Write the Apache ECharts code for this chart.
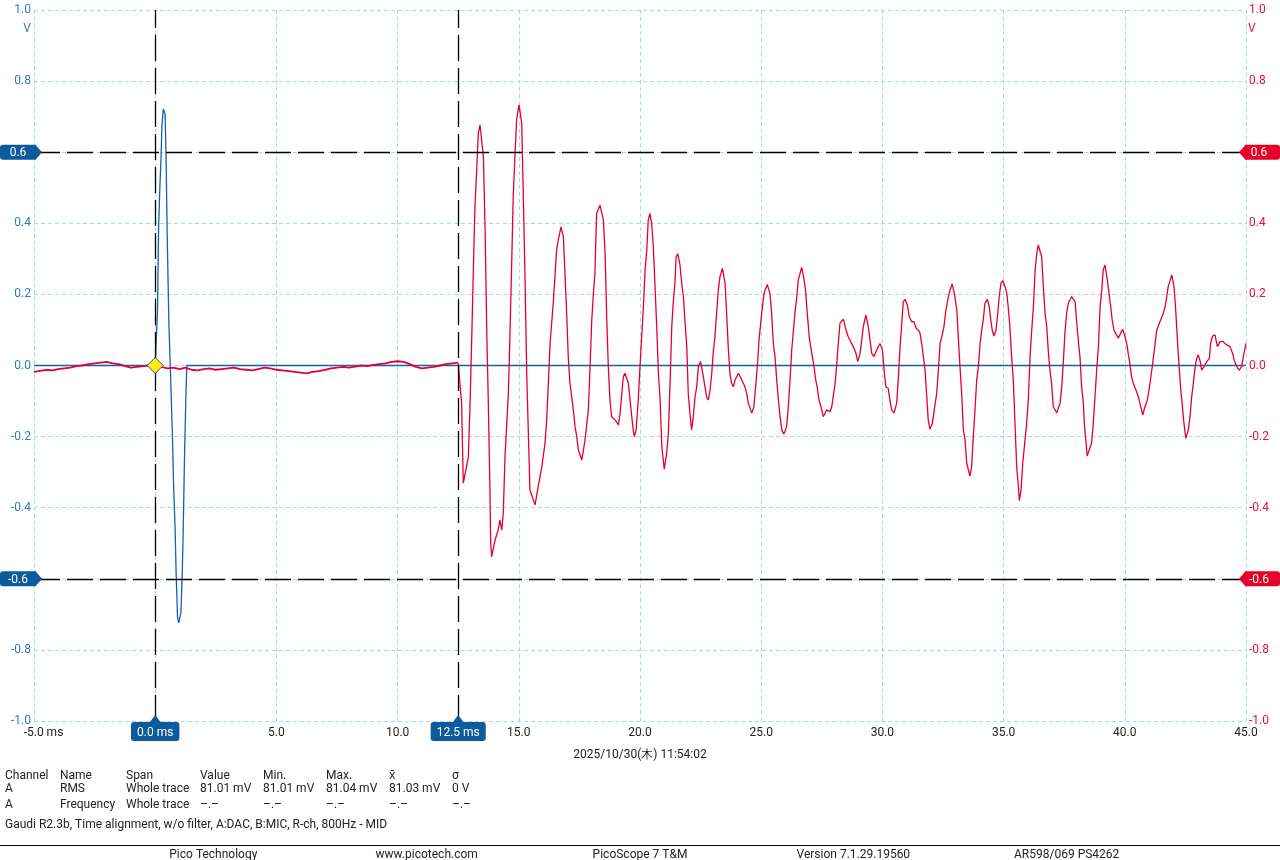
<!DOCTYPE html>
<html><head><meta charset="utf-8">
<script src="https://cdn.jsdelivr.net/npm/echarts@6/dist/echarts.min.js"></script>
<style>html,body{margin:0;padding:0;background:#fff}#c{width:1280px;height:860px}</style>
</head><body><div id="c"></div><script>
// ---------- DATA ----------
const xTickLabels = ['-5.0 ms','','5.0','10.0','15.0','20.0','25.0','30.0','35.0','40.0','45.0'];
const yTickLabels = ['-1.0','-0.8','','-0.4','-0.2','0.0','0.2','0.4','','0.8','1.0'];
const timeMarkers = [0, 12.5];
const timeMarkerLabels = ['0.0 ms', '12.5 ms'];
const voltMarkers = [0.6, -0.6];
const voltMarkerLabels = ['0.6', '-0.6'];
const triggerPoint = [0, 0];

// Channel A (blue, DAC)
const blueA = [[-5,0],[0,0],[0.095,0.155],[0.14,0.388],[0.194,0.504],[0.239,0.581],[0.28,0.678],[0.338,0.722],[0.408,0.707],[0.45,0.581],[0.495,0.368],[0.565,0.117],[0.635,-0.029],[0.705,-0.184],[0.763,-0.348],[0.82,-0.455],[0.862,-0.581],[0.92,-0.707],[0.97,-0.724],[1.06,-0.696],[1.118,-0.581],[1.163,-0.435],[1.205,-0.271],[1.262,-0.096],[1.304,0],[45,0]];

// Channel B (red, MIC) before arrival
const redPre = [[-5,-0.018],[-4.75,-0.015],[-4.5,-0.012],[-4.25,-0.014],[-4,-0.010],[-3.75,-0.008],[-3.5,-0.006],[-3.25,-0.002],[-3,0.0],[-2.75,0.004],[-2.5,0.006],[-2.25,0.008],[-2,0.010],[-1.75,0.006],[-1.5,0.004],[-1.25,-0.002],[-1,-0.006],[-0.75,-0.004],[-0.5,-0.002],[-0.25,0.0],[0,0.0],[0.25,-0.004],[0.5,-0.008],[0.75,-0.006],[1,-0.010],[1.25,-0.006],[1.5,-0.012],[1.75,-0.014],[2,-0.010],[2.25,-0.008],[2.5,-0.012],[2.75,-0.010],[3,-0.008],[3.25,-0.006],[3.5,-0.010],[3.75,-0.012],[4,-0.014],[4.25,-0.010],[4.5,-0.006],[4.75,-0.008],[5,-0.012],[5.25,-0.014],[5.5,-0.016],[5.75,-0.018],[6,-0.020],[6.25,-0.022],[6.5,-0.018],[6.75,-0.016],[7,-0.012],[7.25,-0.008],[7.5,-0.006],[7.75,-0.004],[8,-0.006],[8.25,-0.003],[8.5,0.0],[8.75,-0.002],[9,0.002],[9.25,0.004],[9.5,0.006],[9.75,0.010],[10,0.012],[10.25,0.010],[10.5,0.004],[10.75,-0.004],[11,-0.008],[11.25,-0.006],[11.5,-0.004],[11.75,0.0],[12,0.004],[12.25,0.006],[12.5,0.008]];

// Channel B (red, MIC) after arrival
const redPost = [[12.50,0.006],[12.64,-0.105],[12.71,-0.331],[12.78,-0.336],[12.92,-0.257],[12.99,-0.105],[13.06,0.081],[13.12,0.255],[13.19,0.447],[13.26,0.545],[13.33,0.653],[13.40,0.677],[13.54,0.587],[13.61,0.381],[13.68,0.091],[13.74,-0.097],[13.81,-0.350],[13.84,-0.499],[13.88,-0.538],[14.02,-0.491],[14.15,-0.463],[14.22,-0.435],[14.30,-0.463],[14.36,-0.415],[14.43,-0.257],[14.57,-0.078],[14.64,0.100],[14.71,0.297],[14.77,0.475],[14.84,0.587],[14.91,0.691],[15.01,0.733],[15.12,0.681],[15.19,0.466],[15.26,0.232],[15.33,-0.032],[15.39,-0.181],[15.46,-0.350],[15.67,-0.392],[15.80,-0.341],[15.95,-0.285],[16.08,-0.219],[16.15,-0.153],[16.22,-0.050],[16.29,0.062],[16.42,0.175],[16.49,0.250],[16.56,0.325],[16.63,0.353],[16.74,0.390],[16.84,0.362],[16.91,0.250],[16.98,0.137],[17.04,0.025],[17.11,-0.050],[17.25,-0.125],[17.32,-0.172],[17.39,-0.200],[17.46,-0.238],[17.60,-0.266],[17.73,-0.210],[17.87,-0.125],[17.94,-0.003],[18.01,0.128],[18.07,0.194],[18.14,0.259],[18.21,0.428],[18.35,0.451],[18.49,0.409],[18.56,0.316],[18.63,0.128],[18.69,0.001],[18.76,-0.097],[18.83,-0.144],[18.97,-0.153],[19.11,-0.167],[19.18,-0.134],[19.25,-0.078],[19.31,-0.032],[19.38,-0.022],[19.52,-0.050],[19.59,-0.097],[19.66,-0.144],[19.72,-0.181],[19.77,-0.200],[19.84,-0.181],[19.93,-0.097],[20.00,-0.003],[20.07,0.081],[20.14,0.165],[20.21,0.269],[20.28,0.325],[20.34,0.409],[20.41,0.428],[20.48,0.400],[20.55,0.334],[20.62,0.222],[20.69,0.109],[20.76,-0.022],[20.83,-0.097],[20.90,-0.228],[21.00,-0.292],[21.10,-0.247],[21.17,-0.191],[21.24,-0.050],[21.31,0.109],[21.37,0.175],[21.44,0.231],[21.49,0.306],[21.56,0.314],[21.65,0.283],[21.72,0.231],[21.79,0.194],[21.86,0.119],[21.93,0.053],[21.99,-0.078],[22.06,-0.134],[22.13,-0.181],[22.20,-0.144],[22.27,-0.088],[22.34,-0.060],[22.41,-0.003],[22.50,0.011],[22.59,-0.022],[22.68,-0.060],[22.75,-0.088],[22.82,-0.097],[22.89,-0.069],[22.96,-0.022],[23.02,0.034],[23.09,0.081],[23.16,0.147],[23.23,0.212],[23.30,0.250],[23.40,0.273],[23.51,0.231],[23.58,0.137],[23.64,0.053],[23.71,-0.022],[23.78,-0.050],[23.85,-0.060],[23.92,-0.041],[24.06,-0.022],[24.20,-0.041],[24.33,-0.060],[24.40,-0.078],[24.47,-0.106],[24.61,-0.134],[24.70,-0.116],[24.77,-0.060],[24.84,-0.003],[24.91,0.072],[24.98,0.119],[25.05,0.165],[25.12,0.203],[25.25,0.228],[25.36,0.203],[25.43,0.147],[25.50,0.062],[25.57,0.025],[25.64,-0.041],[25.71,-0.097],[25.78,-0.144],[25.85,-0.181],[25.94,-0.193],[26.05,-0.172],[26.12,-0.116],[26.19,-0.041],[26.26,0.044],[26.32,0.091],[26.39,0.147],[26.47,0.194],[26.53,0.241],[26.67,0.276],[26.76,0.245],[26.83,0.212],[26.90,0.147],[26.98,0.081],[27.04,0.053],[27.11,0.025],[27.18,-0.003],[27.25,-0.041],[27.31,-0.060],[27.38,-0.097],[27.43,-0.106],[27.56,-0.144],[27.70,-0.125],[27.84,-0.130],[27.91,-0.116],[27.97,-0.088],[28.05,-0.050],[28.12,0.006],[28.18,0.062],[28.25,0.119],[28.39,0.130],[28.50,0.100],[28.59,0.081],[28.69,0.067],[28.80,0.053],[28.91,0.034],[28.98,0.011],[29.08,0.034],[29.15,0.072],[29.21,0.109],[29.32,0.142],[29.42,0.109],[29.49,0.072],[29.56,0.034],[29.65,0.025],[29.77,0.044],[29.90,0.062],[30.00,0.044],[30.07,-0.013],[30.14,-0.060],[30.24,-0.064],[30.31,-0.097],[30.38,-0.125],[30.48,-0.134],[30.59,-0.106],[30.66,-0.032],[30.73,0.053],[30.80,0.119],[30.86,0.179],[30.93,0.186],[31.03,0.170],[31.11,0.137],[31.21,0.123],[31.30,0.123],[31.39,0.105],[31.48,0.100],[31.55,0.091],[31.62,0.062],[31.69,0.025],[31.76,-0.013],[31.83,-0.088],[31.89,-0.153],[31.96,-0.179],[32.06,-0.163],[32.14,-0.125],[32.24,-0.078],[32.31,-0.013],[32.38,0.062],[32.45,0.081],[32.54,0.109],[32.62,0.156],[32.72,0.194],[32.79,0.212],[32.88,0.229],[32.97,0.203],[33.07,0.156],[33.13,0.081],[33.20,-0.003],[33.27,-0.078],[33.34,-0.181],[33.41,-0.210],[33.48,-0.275],[33.61,-0.311],[33.68,-0.285],[33.75,-0.200],[33.82,-0.125],[33.89,-0.041],[33.96,-0.003],[34.03,0.062],[34.10,0.100],[34.16,0.128],[34.23,0.175],[34.33,0.186],[34.41,0.165],[34.47,0.128],[34.53,0.100],[34.60,0.083],[34.69,0.100],[34.76,0.147],[34.82,0.194],[34.89,0.231],[34.96,0.239],[35.06,0.222],[35.13,0.203],[35.19,0.165],[35.26,0.109],[35.33,0.025],[35.40,-0.041],[35.47,-0.163],[35.54,-0.285],[35.61,-0.341],[35.65,-0.380],[35.72,-0.350],[35.79,-0.275],[35.87,-0.219],[35.95,-0.163],[36.02,-0.097],[36.09,0.025],[36.16,0.100],[36.23,0.165],[36.30,0.269],[36.37,0.316],[36.43,0.339],[36.47,0.342],[36.57,0.306],[36.64,0.222],[36.71,0.147],[36.78,0.109],[36.84,0.044],[36.91,-0.013],[36.98,-0.050],[37.05,-0.116],[37.19,-0.133],[37.33,-0.106],[37.40,-0.060],[37.46,0.006],[37.53,0.091],[37.60,0.147],[37.67,0.175],[37.81,0.194],[37.95,0.179],[38.02,0.119],[38.08,0.072],[38.15,0.025],[38.22,-0.060],[38.29,-0.106],[38.33,-0.163],[38.45,-0.255],[38.63,-0.218],[38.70,-0.163],[38.77,-0.088],[38.84,-0.013],[38.91,0.053],[38.98,0.165],[39.05,0.212],[39.11,0.269],[39.18,0.283],[39.28,0.241],[39.35,0.203],[39.42,0.165],[39.48,0.128],[39.55,0.100],[39.62,0.091],[39.73,0.077],[39.91,0.102],[40.01,0.081],[40.08,0.062],[40.14,0.034],[40.21,0.006],[40.28,-0.032],[40.35,-0.050],[40.46,-0.069],[40.56,-0.088],[40.74,-0.139],[40.83,-0.116],[40.93,-0.097],[41.04,-0.050],[41.15,0.006],[41.25,0.062],[41.32,0.100],[41.45,0.123],[41.59,0.147],[41.66,0.165],[41.73,0.194],[41.79,0.222],[41.94,0.255],[42.03,0.222],[42.10,0.156],[42.17,0.072],[42.24,-0.003],[42.31,-0.069],[42.39,-0.125],[42.44,-0.163],[42.52,-0.205],[42.62,-0.181],[42.69,-0.144],[42.76,-0.088],[42.83,-0.050],[42.90,-0.003],[42.97,0.020],[43.03,0.030],[43.10,0.015],[43.17,-0.013],[43.27,-0.003],[43.38,0.011],[43.49,0.020],[43.54,0.062],[43.62,0.083],[43.72,0.086],[43.82,0.053],[43.93,0.067],[44.06,0.067],[44.20,0.058],[44.34,0.053],[44.45,0.034],[44.51,0.015],[44.62,-0.003],[44.72,-0.013],[44.82,-0.003],[44.89,0.025],[45.00,0.062]];

const timestampText = '2025/10/30(木) 11:54:02';
const tableHeader = ['Channel','Name','Span','Value','Min.','Max.','x\u0304','σ'];
const tableRow1 = ['A','RMS','Whole trace','81.01 mV','81.01 mV','81.04 mV','81.03 mV','0 V'];
const tableRow2 = ['A','Frequency','Whole trace','–.–','–.–','–.–','–.–','–.–'];
const noteText = 'Gaudi R2.3b, Time alignment, w/o filter, A:DAC, B:MIC, R-ch, 800Hz - MID';
const footerTexts = ['Pico Technology','www.picotech.com','PicoScope 7 T&M','Version 7.1.29.19560','AR598/069 PS4262'];

// ---------- STYLE ----------
const FONT = 'Roboto, "Noto Sans", sans-serif';
const BLUE = '#0f62ae', RED = '#e6002e';
const BLUE_LBL = '#2f7bc0', RED_LBL = '#e8103a';
const BADGE_BLUE = '#0d5a9c', BADGE_RED = '#e4002b';
const GRID_C = '#a5dbe9';

const chart = echarts.init(document.getElementById('c'), null, {renderer: 'canvas'});

const yAxisBase = (pos, color) => ({
  type: 'value', min: -1, max: 1, interval: 0.2, position: pos,
  axisLine: {show: false}, axisTick: {show: false},
  splitLine: {show: pos === 'left', lineStyle: {color: GRID_C, type: [4, 3], width: 1}},
  axisLabel: {color: color, fontFamily: FONT, fontSize: 12, margin: 3,
    formatter: (v, i) => yTickLabels[i] !== undefined ? yTickLabels[i] : ''}
});

chart.setOption({
  animation: false,
  backgroundColor: '#fff',
  grid: {left: 34, right: 34, top: 10, bottom: 139},
  xAxis: {
    type: 'value', min: -5, max: 45, interval: 5,
    axisLine: {show: false}, axisTick: {show: false},
    splitLine: {show: true, lineStyle: {color: GRID_C, type: [4, 3], width: 1}},
    axisLabel: {color: '#222', fontFamily: FONT, fontSize: 12, margin: 6,
      formatter: (v, i) => i === 0 ? '{pad| }' + xTickLabels[0] : (xTickLabels[i] || ''),
      rich: {pad: {width: 19}}}
  },
  yAxis: [yAxisBase('left', BLUE_LBL), yAxisBase('right', RED_LBL)],
  series: [
    {
      type: 'line', name: 'A', data: blueA, showSymbol: false, z: 2,
      lineStyle: {color: BLUE, width: 1.3},
      markLine: {
        silent: true, symbol: 'none', label: {show: false}, animation: false,
        lineStyle: {color: '#000', type: [26, 7], width: 1.3},
        data: timeMarkers.map(t => ({xAxis: t})).concat(voltMarkers.map(v => ({yAxis: v})))
      },
      markPoint: {
        silent: true, symbol: 'diamond', symbolSize: [16, 16], label: {show: false},
        itemStyle: {color: '#ffee00', borderColor: '#2a3fe0', borderWidth: 1},
        data: [{coord: triggerPoint}]
      }
    },
    {type: 'line', name: 'B pre', yAxisIndex: 1, data: redPre, showSymbol: false, z: 3,
      lineStyle: {color: RED, width: 1.8}},
    {type: 'line', name: 'B', yAxisIndex: 1, data: redPost, showSymbol: false, z: 3,
      lineStyle: {color: RED, width: 1.3}}
  ]
});

// ---------- OVERLAY (badges, table, footer) ----------
const px = (t, v) => chart.convertToPixel({gridIndex: 0}, [t, v]);
const W = chart.getWidth();
const ctx = document.createElement('canvas').getContext('2d');
ctx.font = '12px ' + FONT;
const DY = 1.5;
const txt = (x, y, s, fill, align) => ({
  type: 'text', x: x, y: y + DY, silent: true, z: 100,
  style: {text: s, fill: fill || '#222', font: '12px ' + FONT,
    align: align || 'left', textAlign: align || 'left',
    verticalAlign: 'middle', textVerticalAlign: 'middle'}
});
const g = [];

voltMarkers.forEach((v, i) => {
  const pl = px(-5, v), pr = px(45, v);
  const y = pl[1], xl = pl[0] + 2, xr = pr[0] - 1;
  g.push({type: 'rect', z: 90, shape: {x: 0, y: y - 7.5, width: xl, height: 15, r: [3, 0, 0, 3]}, style: {fill: BADGE_BLUE}});
  g.push({type: 'polygon', z: 90, shape: {points: [[xl - 0.5, y - 7.5], [xl + 6, y], [xl - 0.5, y + 7.5]]}, style: {fill: BADGE_BLUE}});
  g.push(txt(xl / 2, y - 0.5, voltMarkerLabels[i], '#fff', 'center'));
  g.push({type: 'rect', z: 90, shape: {x: xr, y: y - 7.5, width: W - xr, height: 15, r: [0, 3, 3, 0]}, style: {fill: BADGE_RED}});
  g.push({type: 'polygon', z: 90, shape: {points: [[xr + 0.5, y - 7.5], [xr - 6, y], [xr + 0.5, y + 7.5]]}, style: {fill: BADGE_RED}});
  g.push(txt(xr + 14, y - 0.5, voltMarkerLabels[i], '#fff', 'center'));
});

timeMarkers.forEach((t, i) => {
  const p = px(t, -1);
  const x = p[0], yb = p[1];
  const w = ctx.measureText(timeMarkerLabels[i]).width + 12;
  g.push({type: 'rect', z: 90, shape: {x: x - w / 2, y: yb + 1, width: w, height: 19, r: 3}, style: {fill: BADGE_BLUE}});
  g.push({type: 'polygon', z: 90, shape: {points: [[x - 6, yb + 2], [x, yb - 6], [x + 6, yb + 2]]}, style: {fill: BADGE_BLUE}});
  g.push(txt(x, yb + 10, timeMarkerLabels[i], '#fff', 'center'));
});

// unit labels under the top tick
g.push(txt(31, 27, 'V', BLUE_LBL, 'right'));
g.push(txt(1248, 27, 'V', RED_LBL, 'left'));

// timestamp
g.push(txt(640, 753, timestampText, '#222', 'center'));

// measurement table
const colX = [5, 60, 126, 200, 263, 326, 389, 452];
[[tableHeader, 774], [tableRow1, 787], [tableRow2, 803]].forEach(([row, y]) => {
  row.forEach((s, j) => g.push(txt(colX[j], y, s)));
});
g.push(txt(5, 823, noteText));

// footer
g.push({type: 'line', z: 90, shape: {x1: 0, y1: 845.5, x2: W, y2: 845.5}, style: {stroke: '#000', lineWidth: 1}});
footerTexts.forEach((s, j) => g.push(txt(W / 6 * (j + 1), 853, s, '#222', 'center')));

chart.setOption({graphic: g});
</script></body></html>
